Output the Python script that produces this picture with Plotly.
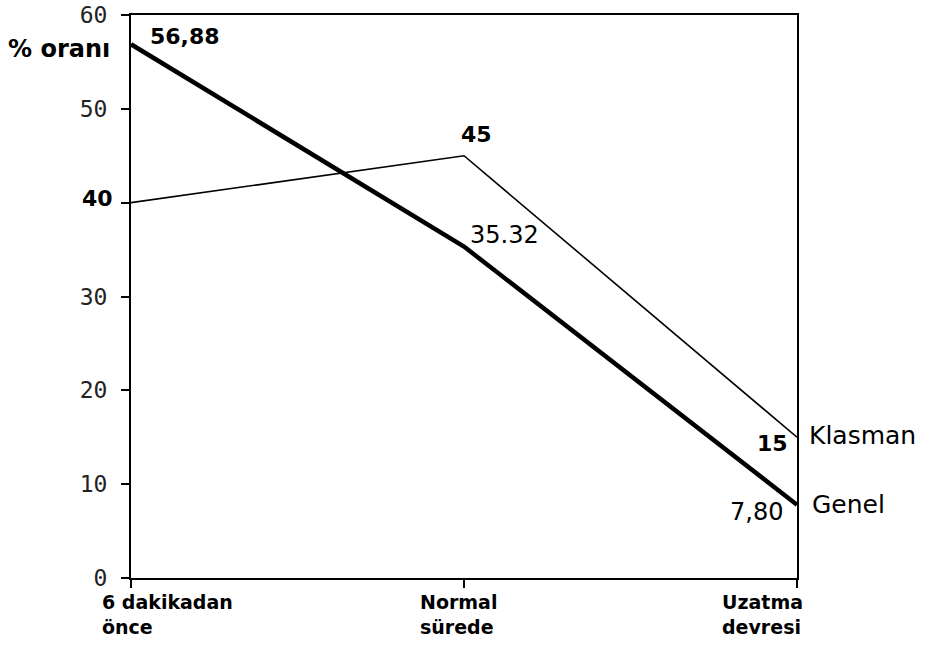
import plotly.graph_objects as go

categories = ["6 dakikadan<br>önce", "Normal<br>sürede", "Uzatma<br>devresi"]
x_pos = [0, 1, 2]
genel = [56.88, 35.32, 7.80]
klasman = [40, 45, 15]
genel_labels = ["56,88", "35.32", "7,80"]
klasman_labels = ["40", "45", "15"]
y_ticks = [0, 10, 20, 30, 40, 50, 60]
y_ticktext = ["0", "10", "20", "30", "", "50", "60"]

fig = go.Figure()
fig.add_trace(go.Scatter(x=x_pos, y=klasman, mode="lines",
                         line=dict(color="black", width=1.6), name="Klasman"))
fig.add_trace(go.Scatter(x=x_pos, y=genel, mode="lines",
                         line=dict(color="black", width=4.5), name="Genel"))

FAM = "DejaVu Sans"
bold = dict(family=FAM, size=22, color="black", weight="bold")
reg = dict(family=FAM, size=24, color="black")
name_font = dict(family=FAM, size=25, color="black")
xlab_font = dict(family=FAM, size=19, color="black", weight="bold")

ann = []
# data labels
ann.append(dict(x=x_pos[0], y=genel[0], text=genel_labels[0], xanchor="left", yanchor="middle",
                xshift=17, yshift=8, font=bold))
ann.append(dict(x=x_pos[1], y=genel[1], text=genel_labels[1], xanchor="left", yanchor="middle",
                xshift=4, yshift=12, font=reg))
ann.append(dict(x=x_pos[2], y=genel[2], text=genel_labels[2], xanchor="right", yanchor="middle",
                xshift=-12, yshift=-7, font=reg))
ann.append(dict(x=x_pos[0], y=klasman[0], text=klasman_labels[0], xanchor="right", yanchor="middle",
                xshift=-16, yshift=4, font=bold))
ann.append(dict(x=x_pos[1], y=klasman[1], text=klasman_labels[1], xanchor="left", yanchor="middle",
                xshift=-5, yshift=21, font=bold))
ann.append(dict(x=x_pos[2], y=klasman[2], text=klasman_labels[2], xanchor="right", yanchor="middle",
                xshift=-7, yshift=-6, font=bold))
# series names
ann.append(dict(x=x_pos[2], y=klasman[2], text="Klasman", xanchor="left", yanchor="middle",
                xshift=10, yshift=2, font=name_font))
ann.append(dict(x=x_pos[2], y=genel[2], text="Genel", xanchor="left", yanchor="middle",
                xshift=13, yshift=0, font=name_font))
# y axis title
ann.append(dict(xref="paper", yref="y", x=0, y=56.4, text="% oranı", xanchor="right", yanchor="middle",
                xshift=-19, showarrow=False, font=dict(family=FAM, size=24, color="black", weight="bold")))
# x tick labels
x_shifts = [-31, -46, -77]
for xp, lab, xs in zip(x_pos, categories, x_shifts):
    ann.append(dict(x=xp, yref="paper", y=0, text=lab, xanchor="left", yanchor="top",
                    align="left", xshift=xs, yshift=-11, font=xlab_font))

for a in ann:
    a.setdefault("showarrow", False)
    if "xref" not in a:
        a["xref"] = "x"
    if "yref" not in a:
        a["yref"] = "y"

fig.update_layout(
    width=929, height=646,
    margin=dict(l=131, r=132, t=15, b=68),
    plot_bgcolor="white", paper_bgcolor="white",
    showlegend=False,
    annotations=ann,
    xaxis=dict(range=[0, 2], tickvals=x_pos, showticklabels=False, showgrid=False, zeroline=False,
               automargin=False,
               showline=True, linecolor="black", linewidth=2, mirror=True,
               ticks="outside", ticklen=8, tickcolor="black", tickwidth=2),
    yaxis=dict(range=[0, 60], tickvals=y_ticks, ticktext=y_ticktext, showgrid=False, zeroline=False,
               automargin=False, ticklabelstandoff=9, ticklabeloverflow="allow",
               showline=True, linecolor="black", linewidth=2, mirror=True,
               ticks="outside", ticklen=8, tickcolor="black", tickwidth=1.5,
               tickfont=dict(family="DejaVu Sans Mono", size=23, color="#222")),
)

fig.write_html("out.html", config={"displayModeBar": False},
               post_script="document.body.style.margin='0px';document.body.style.overflow='hidden';")
